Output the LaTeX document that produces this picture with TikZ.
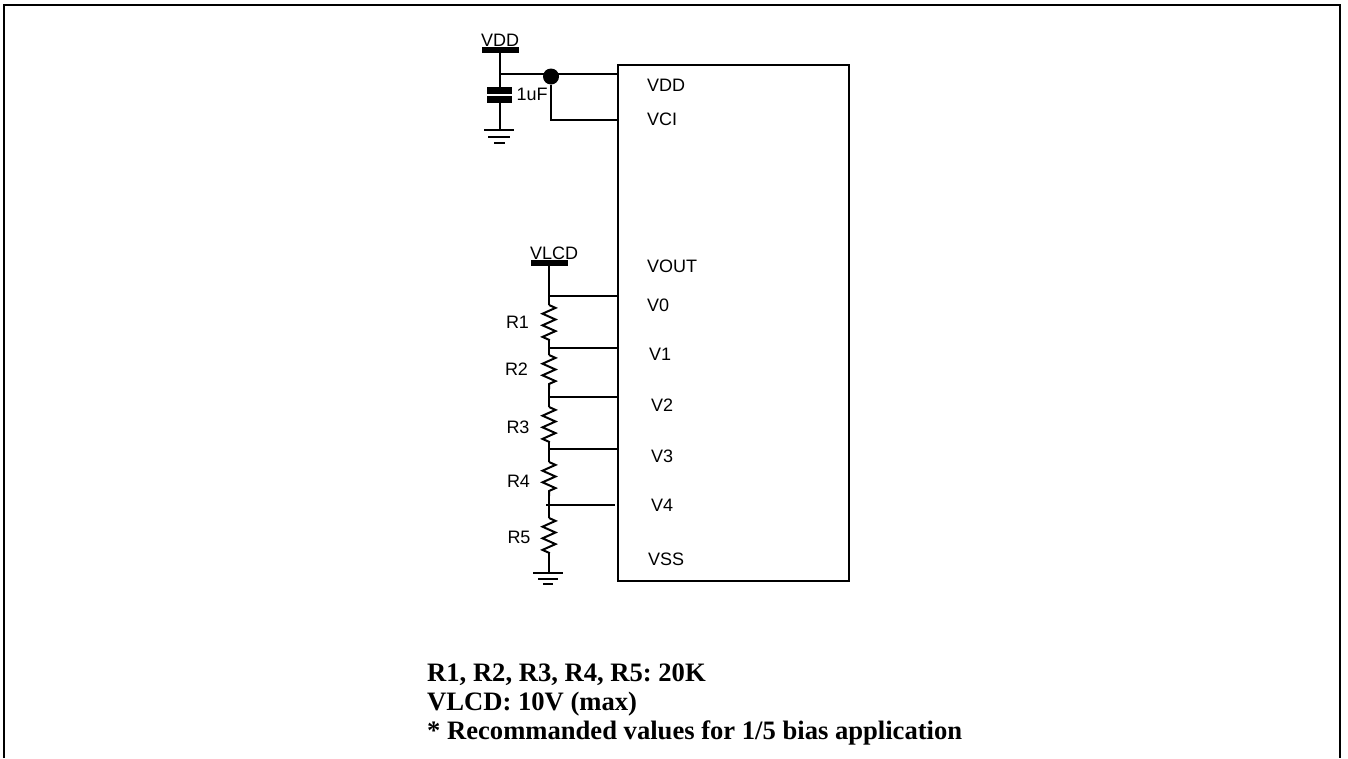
\documentclass[tikz,border=0pt]{standalone}
\usepackage{fontspec}
\setmainfont{Liberation Sans}
\newfontfamily\notefont{Liberation Serif}
\frenchspacing
\usetikzlibrary{decorations.pathmorphing}
\tikzset{
  wire/.style={line width=2pt},
  railbar/.style={line width=6pt},
  pinlabel/.style={inner sep=0pt, anchor=west, font=\fontsize{18}{18}\selectfont},
  partlabel/.style={inner sep=0pt, font=\fontsize{18}{18}\selectfont},
  notelabel/.style={inner sep=0pt, anchor=west, font=\notefont\bfseries\fontsize{26.6}{26.6}\selectfont},
  resistor/.style={wire, decorate, decoration={zigzag, segment length=11.6pt, amplitude=6.5pt}}
}
\begin{document}
\begin{tikzpicture}[x=1pt,y=-1pt]
  \useasboundingbox (0,0) rectangle (1348,758);

  % --- frame, open at the bottom ---
  \draw[line width=2.4pt] (4,758) -- (4,5) -- (1340,5) -- (1340,758);

  % --- chip outline ---
  \node[draw, wire, minimum width=231pt, minimum height=516pt, inner sep=0pt] (chip) at (733.5,323) {};

  % --- pin names ---
  \foreach \name/\x/\y in {VDD/647/85, VCI/647/119, VOUT/647/266, V0/647/305, V1/649/354, V2/651/405, V3/651/456, V4/651/505, VSS/648/559} {
    \node[pinlabel] (pin\name) at (\x,\y) {\name};
  }

  % --- supply side ---
  \node[partlabel] (vddtext) at (500,40) {VDD};
  \coordinate (vddrail) at (499.5,50);
  \coordinate (vddjoin) at (499.5,74);
  \coordinate (vddpin) at (618,74);
  \coordinate (vcipin) at (618,120);
  \coordinate (vcibend) at (551,120);
  \coordinate (capplus) at (499.5,87);
  \coordinate (capminus) at (499.5,102);
  \coordinate (vddgnd) at (499.5,130);
  \node[fill, circle, inner sep=0pt, minimum size=16pt] (vdddot) at (551,76.5) {};
  \node[partlabel] (captext) at (532,94) {1uF};
  \draw[railbar] (482,50) -- (519,50);
  \draw[wire] (vddrail) -- (vddjoin) -- (capplus);
  \draw[wire] (vddjoin) -- (vddpin);
  \draw[wire] (vdddot) -- (vcibend) -- (vcipin);
  \fill (487,87) rectangle (512,94);
  \fill (487,96) rectangle (512,103);
  \draw[wire] (capminus) -- (vddgnd);
  \draw[wire] (484,130) -- (514,130);
  \draw[wire] (488,136.5) -- (510,136.5);
  \draw[wire] (494,142.5) -- (505,142.5);

  % --- divider ---
  \node[partlabel] (vlcdtext) at (554,253) {VLCD};
  \coordinate (vlcdrail) at (549,262.5);
  \draw[railbar] (531,262.5) -- (568,262.5);
  \coordinate (tap0) at (549,296);
  \coordinate (tap1) at (549,348);
  \coordinate (tap2) at (549,397);
  \coordinate (tap3) at (549,449);
  \coordinate (tap4) at (549,505);
  \coordinate (gnd) at (549,573);
  \draw[wire] (vlcdrail) -- (tap0);
  \foreach \a/\b/\top/\bot in {tap0/tap1/305/340, tap1/tap2/355/389, tap2/tap3/407/442, tap3/tap4/462/496, tap4/gnd/518/553} {
    \draw[wire] (\a) -- (549,\top);
    \draw[resistor] (549,\top) -- (549,\bot);
    \draw[wire] (549,\bot) -- (\b);
  }
  \foreach \a in {tap0,tap1,tap2,tap3} {
    \draw[wire] (\a) -- (\a -| chip.west);
  }
  \draw[wire] (546,505) -- (615,505);
  \draw[wire] (533,573) -- (563,573);
  \draw[wire] (538,578.5) -- (558,578.5);
  \draw[wire] (543,584) -- (553,584);

  % --- resistor names ---
  \foreach \name/\x/\y in {R1/517.5/322, R2/516.5/369, R3/518/427, R4/518.5/481, R5/519/537} {
    \node[partlabel] (\name) at (\x,\y) {\name};
  }

  % --- notes ---
  \node[notelabel] (note1) at (427,675) {R1, R2, R3, R4, R5: 20K};
  \node[notelabel] (note2) at (427,704) {VLCD: 10V (max)};
  \node[notelabel] (note3) at (427,733) {* Recommanded values for 1/5 bias application};
\end{tikzpicture}
\end{document}
